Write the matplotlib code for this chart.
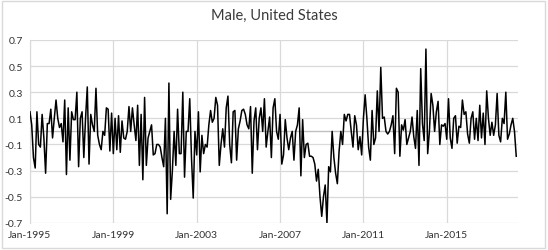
import numpy as np
import pandas as pd
import matplotlib
matplotlib.use('Agg')
import matplotlib.pyplot as plt
from matplotlib.patches import Rectangle

# monthly values, Jan-1995 onwards
v1995 = [0.15, 0.05, -0.2, -0.28, 0.15, -0.1, -0.12, 0.13, -0.05, -0.32, 0.06, 0.06]
v1996 = [0.17, -0.05, 0.1, 0.24, 0.1, 0.03, 0.06, -0.08, 0.24, -0.33, 0.18, -0.22]
v1997 = [0.15, 0.09, 0.09, 0.3, -0.27, 0.1, 0.15, -0.2, 0.1, 0.34, -0.25, 0.13]
v1998 = [0.05, 0.0, 0.33, -0.03, -0.1, -0.14, 0.0, -0.03, 0.18, 0.17, -0.15, 0.14]
v1999 = [-0.17, 0.1, -0.14, 0.12, -0.16, 0.08, -0.05, -0.06, 0.0, 0.19, 0.0, 0.18]
v2000 = [0.05, -0.07, 0.2, -0.26, 0.13, -0.37, 0.26, -0.26, -0.05, 0.0, 0.05, -0.18]
v2001 = [-0.17, -0.1, -0.1, -0.12, -0.2, -0.27, 0.1, -0.63, 0.37, -0.52, -0.3, 0.0]
v2002 = [-0.26, 0.17, -0.17, -0.17, 0.3, -0.35, 0.0, 0.0, 0.25, -0.2, -0.51, 0.0]
v2003 = [-0.18, 0.15, -0.31, -0.03, -0.17, -0.1, -0.12, 0.05, 0.16, 0.07, 0.1, 0.26]
v2004 = [0.2, -0.26, -0.1, 0.02, -0.12, 0.18, 0.27, -0.1, -0.24, 0.15, 0.16, -0.22]
v2005 = [0.02, 0.08, 0.16, 0.17, 0.13, 0.05, 0.02, 0.19, -0.32, 0.08, 0.18, -0.14]
v2006 = [0.1, 0.18, 0.0, 0.25, -0.12, 0.0, 0.11, -0.2, 0.18, 0.25, 0.0, -0.06]
v2007 = [0.13, -0.25, -0.18, 0.09, -0.05, -0.14, -0.05, 0.0, -0.22, 0.0, 0.05, 0.18]
v2008 = [-0.34, 0.09, -0.2, -0.1, -0.09, -0.19, -0.19, -0.2, -0.25, -0.38, -0.29, -0.5]
v2009 = [-0.65, -0.5, -0.41, -0.7, -0.27, -0.31, 0.0, -0.2, -0.32, -0.4, -0.15, 0.0]
v2010 = [-0.1, 0.13, 0.08, 0.13, 0.13, 0.0, -0.12, 0.12, 0.05, -0.14, -0.04, -0.18]
v2011 = [0.1, 0.28, 0.1, -0.12, -0.22, 0.16, -0.1, -0.05, 0.31, 0.0, 0.49, 0.1]
v2012 = [0.11, 0.0, -0.02, 0.0, 0.05, 0.12, -0.17, 0.33, 0.3, -0.19, 0.05, 0.01]
v2013 = [0.09, -0.1, -0.05, 0.0, 0.11, -0.04, -0.13, 0.16, -0.26, 0.48, 0.06, -0.07]
v2014 = [0.63, -0.17, 0.0, 0.29, 0.2, 0.0, 0.15, 0.23, -0.1, 0.05, 0.04, 0.06]
v2015 = [-0.06, 0.25, -0.05, -0.13, 0.1, 0.12, -0.09, 0.04, 0.03, 0.24, 0.13, 0.15]
v2016 = [-0.02, -0.09, 0.1, 0.15, -0.06, 0.1, -0.07, 0.2, -0.05, 0.14, -0.1, 0.31]
v2017 = [0.1, -0.03, 0.07, -0.03, 0.05, 0.29, -0.03, -0.08, 0.1, 0.06, 0.3, -0.06]
v2018 = [-0.02, 0.05, 0.1, 0.0, -0.19]

values = (v1995 + v1996 + v1997 + v1998 + v1999 + v2000 + v2001 + v2002 + v2003 +
          v2004 + v2005 + v2006 + v2007 + v2008 + v2009 + v2010 + v2011 + v2012 +
          v2013 + v2014 + v2015 + v2016 + v2017 + v2018)
dates = pd.date_range('1995-01-01', periods=len(values), freq='MS')
yticks = [-0.7, -0.5, -0.3, -0.1, 0.1, 0.3, 0.5, 0.7]

plt.rcParams['font.family'] = ['Lato', 'DejaVu Sans']

fig = plt.figure(figsize=(5.48, 2.51), dpi=100)
ax = fig.add_axes([0.0547, 0.108, 0.8905, 0.729])

x = np.arange(len(values))
ax.plot(x, values, color='black', lw=1.1, zorder=3)

ax.set_xlim(0, len(values))
ax.set_ylim(-0.7, 0.7)
ax.set_yticks(yticks)
ax.set_yticklabels(['%.1f' % t for t in yticks])

xt = [i for i in range(0, len(values), 48)]
ax.set_xticks(xt)
ax.set_xticklabels([dates[i].strftime('%b-%Y') for i in xt])

ax.grid(True, color='#d9d9d9', lw=0.9)
ax.axhline(0, color='#bfbfbf', lw=1.0, zorder=2)
ax.tick_params(length=0, labelsize=7.5, colors='#333333', pad=5)
for s in ['top', 'right', 'bottom']:
    ax.spines[s].set_visible(False)
ax.spines['left'].set_color('#d9d9d9')

fig.suptitle('Male, United States', x=0.5, y=0.965, fontsize=10.5, color='#3a3a3a')

fig.patches.append(Rectangle((0.004, 0.006), 0.99, 0.988, transform=fig.transFigure,
                             fill=False, edgecolor='#d9d9d9', lw=1))

fig.savefig('out.png', dpi=100)
